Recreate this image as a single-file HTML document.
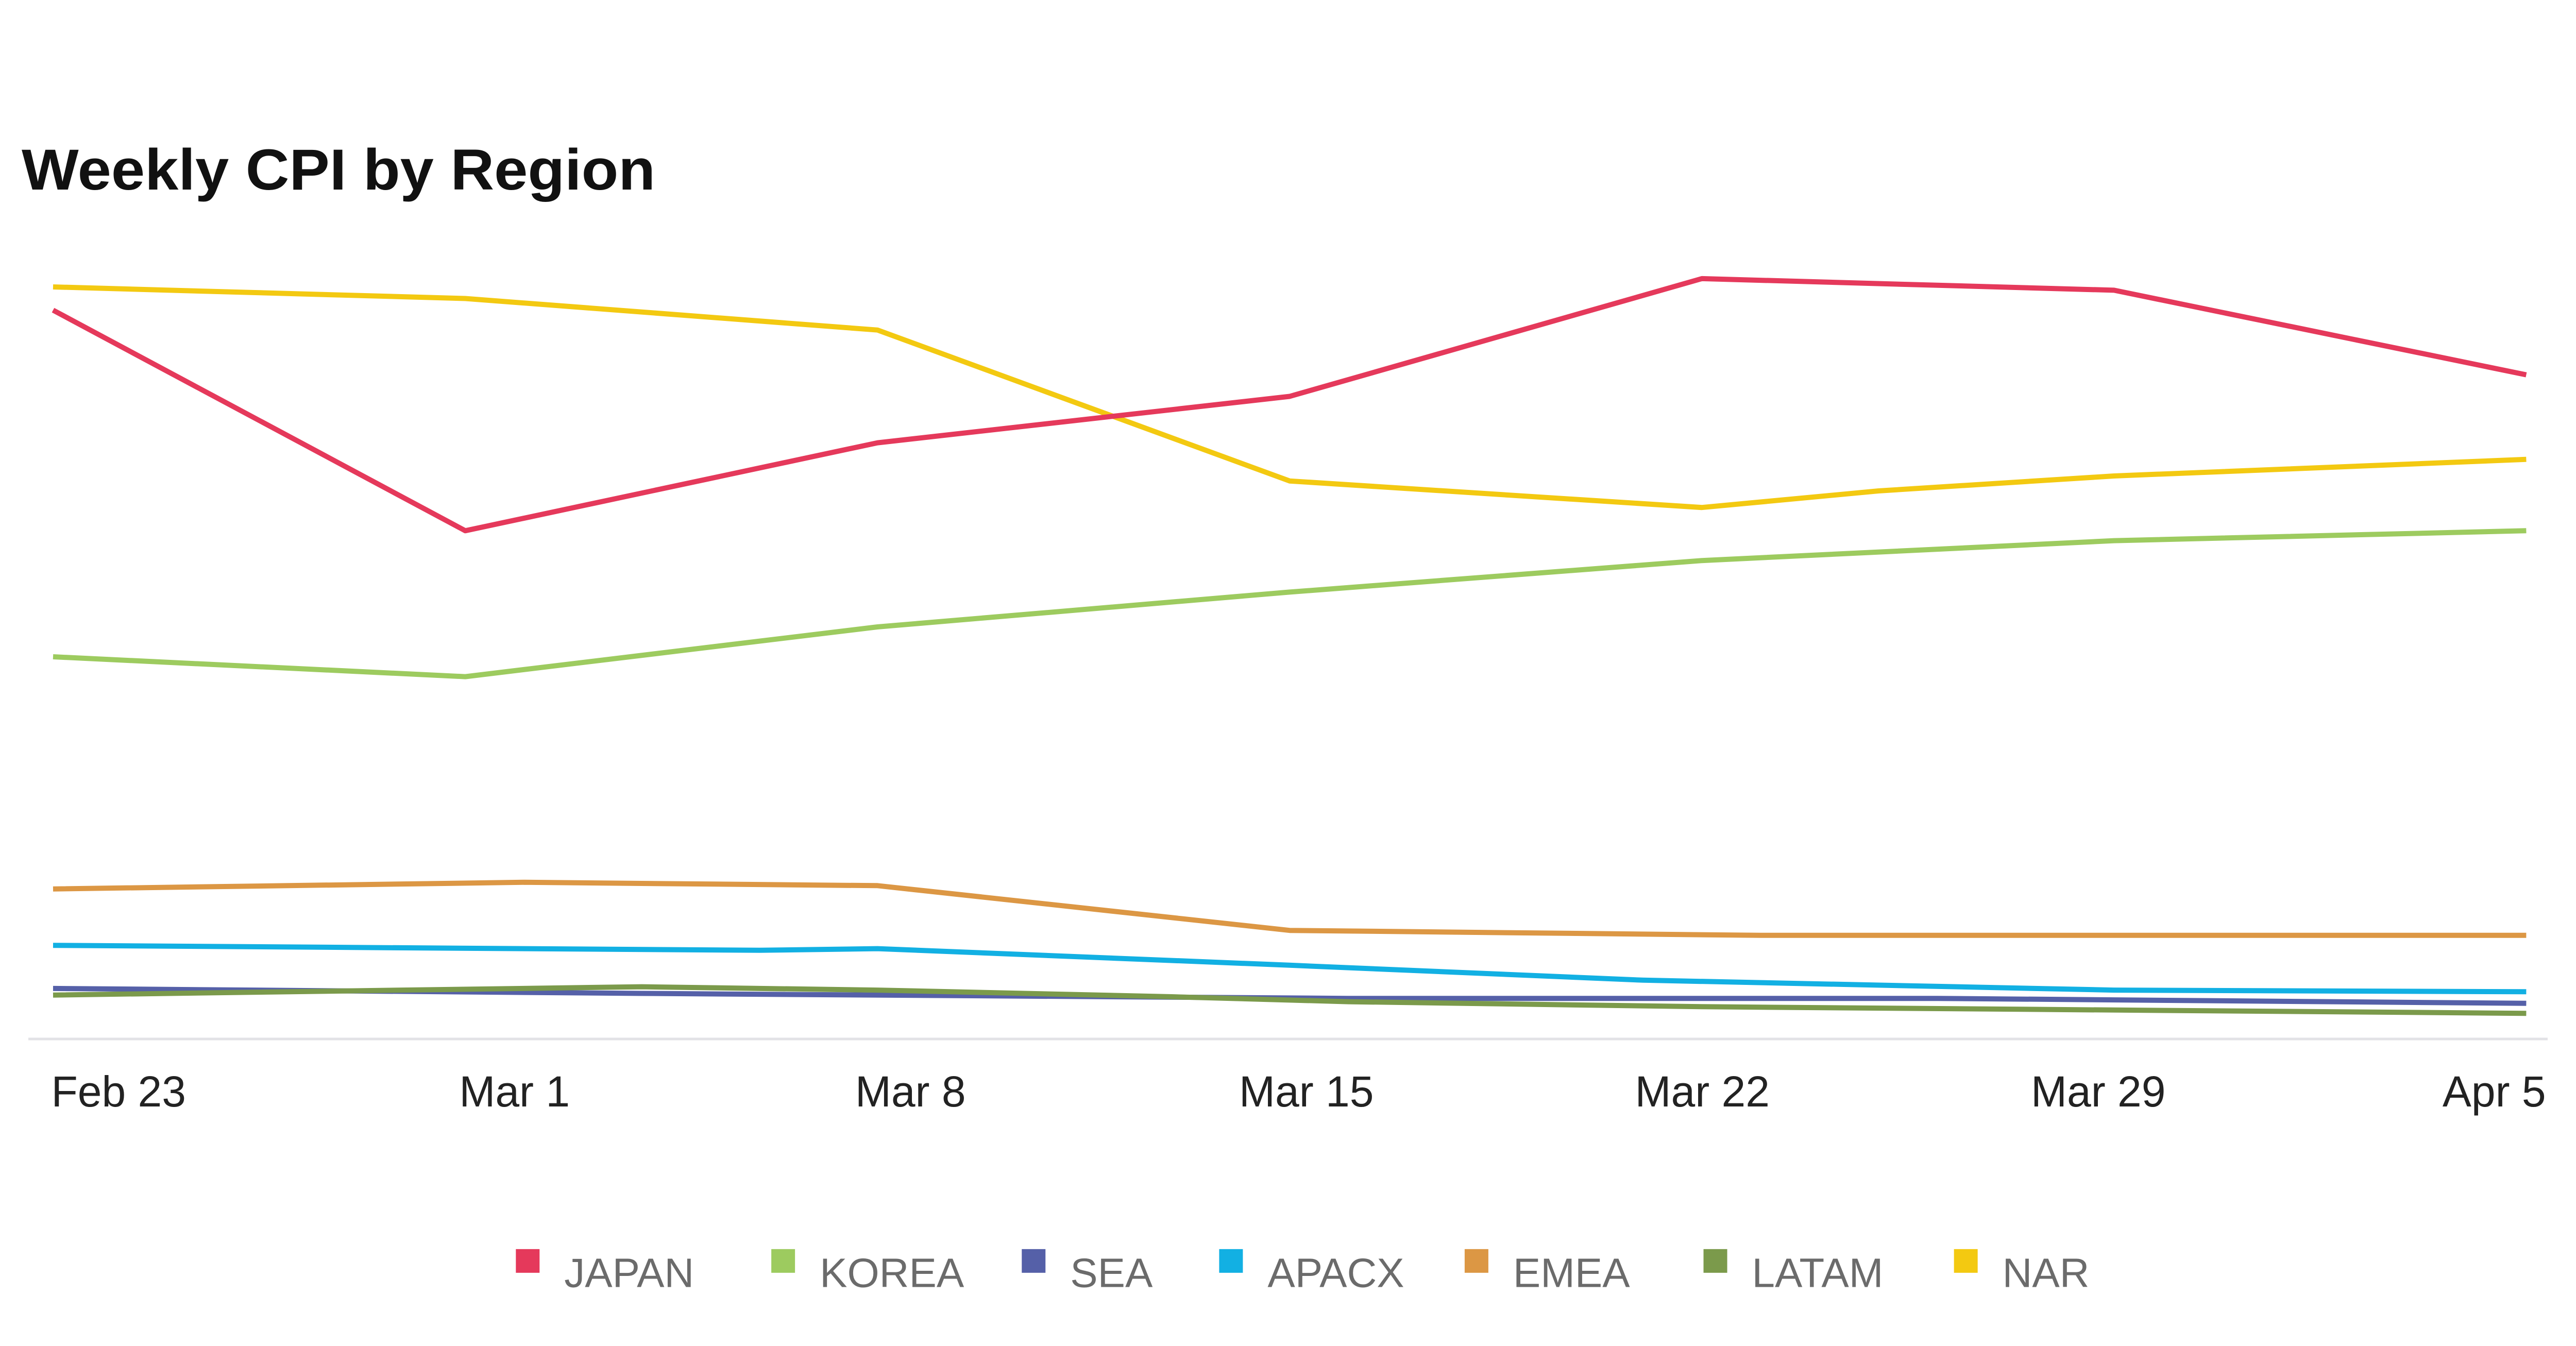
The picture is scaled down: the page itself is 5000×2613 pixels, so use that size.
<!DOCTYPE html>
<html><head><meta charset="utf-8"><style>
html,body{margin:0;padding:0;background:#fff;}
svg{display:block;}
</style></head><body>
<svg id="chart" width="5000" height="2613" viewBox="0 0 5000 2613" xmlns="http://www.w3.org/2000/svg">
<text x="42" y="368" textLength="1230" lengthAdjust="spacingAndGlyphs" font-family="Liberation Sans, sans-serif" font-weight="bold" font-size="112" fill="#111">Weekly CPI by Region</text>
<line x1="55" y1="2017" x2="4945" y2="2017" stroke="#e2e2e6" stroke-width="5"/>
<g id="ticks"></g>
<g id="series"></g>
<g id="legend"></g>
</svg>
<script>
const tickLabels = ["Feb 23","Mar 1","Mar 8","Mar 15","Mar 22","Mar 29","Apr 5"];
const seriesNames = ["KOREA","NAR","JAPAN","EMEA","APACX","SEA","LATAM"];
const legendOrder = ["JAPAN","KOREA","SEA","APACX","EMEA","LATAM","NAR"];
const japanDays = [0,7,14,21,28,35,42];
const japanVals = [439,306,359,387,458,451,400];
const koreaDays = [0,7,14,21,28,35,42];
const koreaVals = [230,218,248,269,288,300,306];
const narDays = [0,7,14,21,28,31,35,42];
const narVals = [453,446,427,336,320,330,339,349];
const emeaDays = [0,8,14,21,29,42];
const emeaVals = [90,94,92,65,62,62];
const apacxDays = [0,12,14,21,27,35,42];
const apacxVals = [56,53,54,44,35,29,28];
const seaDays = [0,10,22,32,42];
const seaVals = [30,27,24,24,21];
const latamDays = [0,10,14,19,22,28,42];
const latamVals = [26,31,29,25,22,19,15];

const colors = {JAPAN:"#e5395b",KOREA:"#9dcb5f",SEA:"#5560a8",APACX:"#12b0e3",EMEA:"#dc9744",LATAM:"#7b9a4b",NAR:"#f3c911"};
const S = 5000/1553;
function xDay(d){ return (32 + d*(1491/42))*S; }
function yVal(v){ return (626 - v)*S; }
function xTick(i){ return (71.5 + 238.7*i)*S; }
const NS="http://www.w3.org/2000/svg";

const tg=document.getElementById('ticks');
tickLabels.forEach((t,i)=>{
  const el=document.createElementNS(NS,'text');
  
  
  el.setAttribute('x',xTick(i));
  el.setAttribute('y',2148);
  el.setAttribute('text-anchor','middle');
  el.setAttribute('font-family','Liberation Sans, sans-serif');
  el.setAttribute('font-size','84');
  el.setAttribute('fill','#222');
  el.textContent=t;
  tg.appendChild(el);
});

const data={JAPAN:[japanDays,japanVals],KOREA:[koreaDays,koreaVals],NAR:[narDays,narVals],EMEA:[emeaDays,emeaVals],APACX:[apacxDays,apacxVals],SEA:[seaDays,seaVals],LATAM:[latamDays,latamVals]};
const sg=document.getElementById('series');
seriesNames.forEach(n=>{
  const [d,v]=data[n];
  const pts=d.map((dd,i)=>xDay(dd).toFixed(1)+','+yVal(v[i]).toFixed(1)).join(' ');
  const pl=document.createElementNS(NS,'polyline');
  
  
  pl.setAttribute('points',pts);
  pl.setAttribute('fill','none');
  pl.setAttribute('stroke',colors[n]);
  pl.setAttribute('stroke-width','10');
  pl.setAttribute('stroke-linejoin','round');
  sg.appendChild(pl);
});

const legX=[311,465,616,735,883,1027,1178];
const lg=document.getElementById('legend');
legendOrder.forEach((n,i)=>{
  const g=document.createElementNS(NS,'g');
  
  
  const r=document.createElementNS(NS,'rect');
  
  
  r.setAttribute('x',legX[i]*S);
  r.setAttribute('y',760*S-22);
  r.setAttribute('width',46);
  r.setAttribute('height',46);
  r.setAttribute('fill',colors[n]);
  const t=document.createElementNS(NS,'text');
  
  
  t.setAttribute('x',legX[i]*S+94);
  t.setAttribute('y',776*S);
  t.setAttribute('font-family','Liberation Sans, sans-serif');
  t.setAttribute('font-size','80');
  t.setAttribute('fill','#6b6b6b');
  t.textContent=n;
  g.appendChild(r);g.appendChild(t);lg.appendChild(g);
});
</script>
</body></html>
